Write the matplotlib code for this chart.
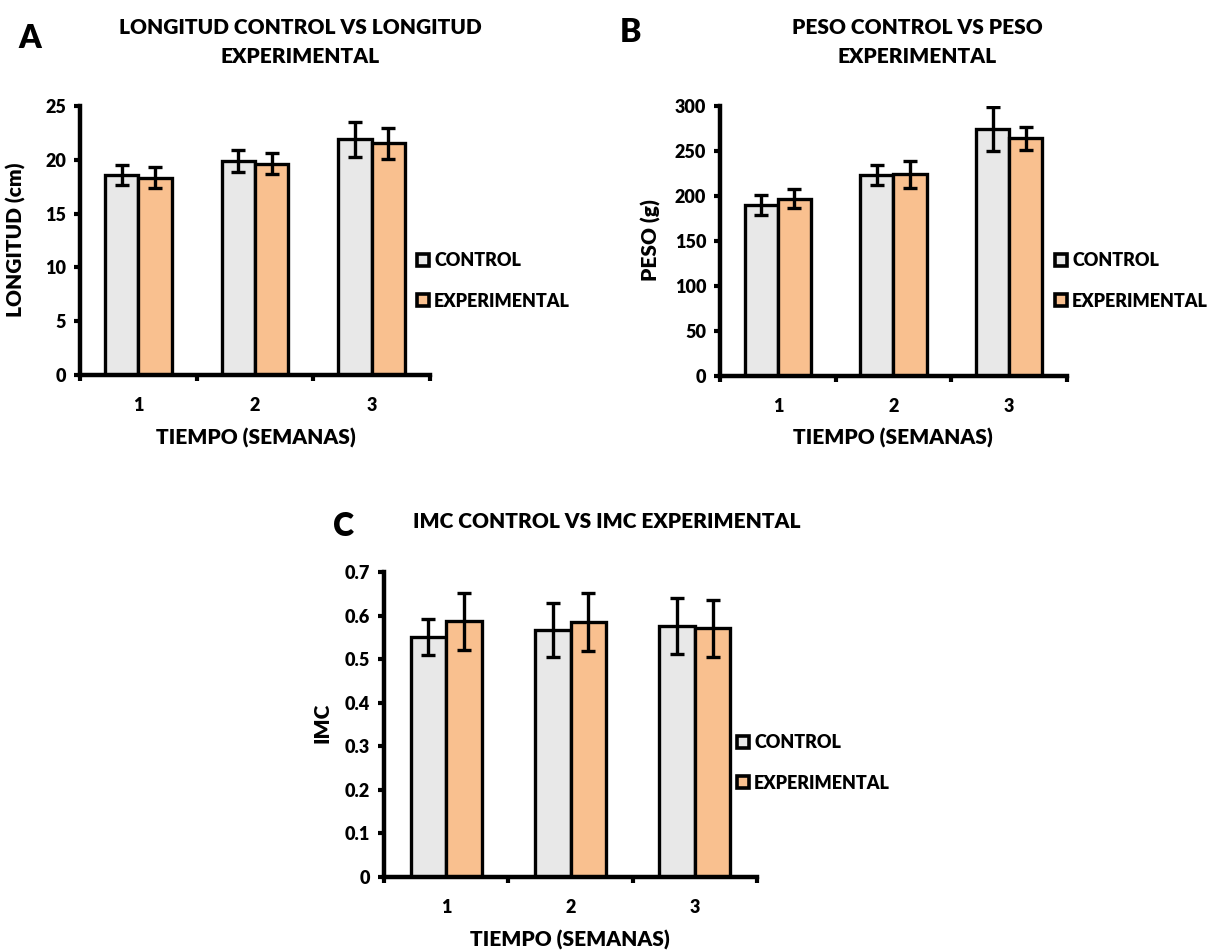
"""
Panel figure: longitud, peso e IMC, control vs experimental (bar + error)
"""

import matplotlib
matplotlib.use('Agg')
import matplotlib.pyplot as plt
from matplotlib.patches import Patch
import numpy as np

weeks = ['1', '2', '3']
series = ['CONTROL', 'EXPERIMENTAL']

long_control = [18.6, 19.9, 21.9]
long_control_err = [0.95, 1.0, 1.6]
long_exp = [18.35, 19.65, 21.55]
long_exp_err = [1.0, 1.0, 1.45]

peso_control = [190, 223, 274]
peso_control_err = [11, 11, 24.5]
peso_exp = [197, 224, 264]
peso_exp_err = [10.5, 15, 12.5]

imc_control = [0.551, 0.568, 0.576]
imc_control_err = [0.041, 0.062, 0.064]
imc_exp = [0.587, 0.585, 0.571]
imc_exp_err = [0.065, 0.067, 0.065]

W, H = 1215, 950
GRAY = '#E8E8E8'
PEACH = '#F9C08F'
FONT = 'Lato'
TICK_FS = 13
LAB_FS = 15

plt.rcParams['font.family'] = FONT
plt.rcParams['font.weight'] = 'heavy'


def fx(x):
    return x / W


def fy(y):
    return 1 - y / H


def add_panel(fig, box, ctrl, ctrl_err, exp, exp_err, ymax, ystep, fmt):
    """box = (left, top, right, bottom) in pixels"""
    l, t, r, b = box
    ax = fig.add_axes([fx(l), fy(b), fx(r) - fx(l), (b - t) / H])
    x = np.arange(1, len(weeks) + 1)
    w = 0.286
    ekw = dict(elinewidth=2.4, capthick=2.4, ecolor='black')
    ax.bar(x - w / 2, ctrl, w, yerr=ctrl_err, color=GRAY, edgecolor='black',
           linewidth=2.4, capsize=5, error_kw=ekw, zorder=2)
    ax.bar(x + w / 2, exp, w, yerr=exp_err, color=PEACH, edgecolor='black',
           linewidth=2.4, capsize=5, error_kw=ekw, zorder=2)

    ax.set_xlim(0.5, len(weeks) + 0.5)
    ax.set_ylim(0, ymax)
    yt = np.arange(0, ymax + ystep / 2, ystep)
    ax.set_yticks(yt)
    ax.set_yticklabels([fmt(v) for v in yt])

    # boundary ticks on x, labels at category centres
    ax.set_xticks(np.arange(0.5, len(weeks) + 1, 1.0))
    ax.set_xticklabels([])
    ax.set_xticks(x, minor=True)
    ax.set_xticklabels(weeks, minor=True)
    ax.tick_params(axis='x', which='major', direction='out', length=4, width=3)
    ax.tick_params(axis='x', which='minor', length=0, pad=16,
                   labelsize=TICK_FS)
    ax.tick_params(axis='y', direction='out', length=4, width=3, pad=6,
                   labelsize=TICK_FS)

    for s in ['top', 'right']:
        ax.spines[s].set_visible(False)
    for s in ['left', 'bottom']:
        ax.spines[s].set_linewidth(3.2)
        ax.spines[s].set_zorder(3)
    return ax


def add_legend(fig, xpx, ypx):
    handles = [Patch(facecolor=GRAY, edgecolor='black', linewidth=2.6),
               Patch(facecolor=PEACH, edgecolor='black', linewidth=2.6)]
    fig.legend(handles, series, loc='center left',
               bbox_to_anchor=(fx(xpx), fy(ypx)), frameon=False,
               fontsize=TICK_FS, handlelength=0.65, handleheight=0.65,
               handletextpad=0.3, labelspacing=1.3, borderpad=0,
               borderaxespad=0)


fig = plt.figure(figsize=(W / 100, H / 100), dpi=100)

# A
add_panel(fig, (80, 106, 430, 375), long_control, long_control_err,
          long_exp, long_exp_err, 25, 5, lambda v: f'{v:.0f}')
add_legend(fig, 417, 281)
fig.text(fx(30), fy(38), 'A', fontsize=23, ha='center', va='center')
fig.text(fx(300), fy(42), 'LONGITUD CONTROL VS LONGITUD\nEXPERIMENTAL',
         fontsize=LAB_FS, ha='center', va='center', linespacing=1.6)
fig.text(fx(16), fy(240), 'LONGITUD (cm)', rotation=90, fontsize=LAB_FS,
         ha='center', va='center')
fig.text(fx(256), fy(438), 'TIEMPO (SEMANAS)', fontsize=LAB_FS,
         ha='center', va='center')

# B
add_panel(fig, (720, 106, 1067, 376), peso_control, peso_control_err,
          peso_exp, peso_exp_err, 300, 50, lambda v: f'{v:.0f}')
add_legend(fig, 1055, 281)
fig.text(fx(631), fy(33), 'B', fontsize=23, ha='center', va='center')
fig.text(fx(917), fy(42), 'PESO CONTROL VS PESO\nEXPERIMENTAL',
         fontsize=LAB_FS, ha='center', va='center', linespacing=1.6)
fig.text(fx(651), fy(240), 'PESO (g)', rotation=90, fontsize=LAB_FS,
         ha='center', va='center')
fig.text(fx(893), fy(438), 'TIEMPO (SEMANAS)', fontsize=LAB_FS,
         ha='center', va='center')

# C
add_panel(fig, (384, 572, 757, 877), imc_control, imc_control_err,
          imc_exp, imc_exp_err, 0.7, 0.1,
          lambda v: '0' if abs(v) < 1e-9 else f'{v:.1f}')
add_legend(fig, 737, 763)
fig.text(fx(344), fy(527), 'C', fontsize=23, ha='center', va='center')
fig.text(fx(607), fy(522), 'IMC CONTROL VS IMC EXPERIMENTAL',
         fontsize=LAB_FS, ha='center', va='center')
fig.text(fx(322), fy(723), 'IMC', rotation=90, fontsize=LAB_FS,
         ha='center', va='center')
fig.text(fx(570), fy(940), 'TIEMPO (SEMANAS)', fontsize=LAB_FS,
         ha='center', va='center')

fig.savefig('out.png', dpi=100)
